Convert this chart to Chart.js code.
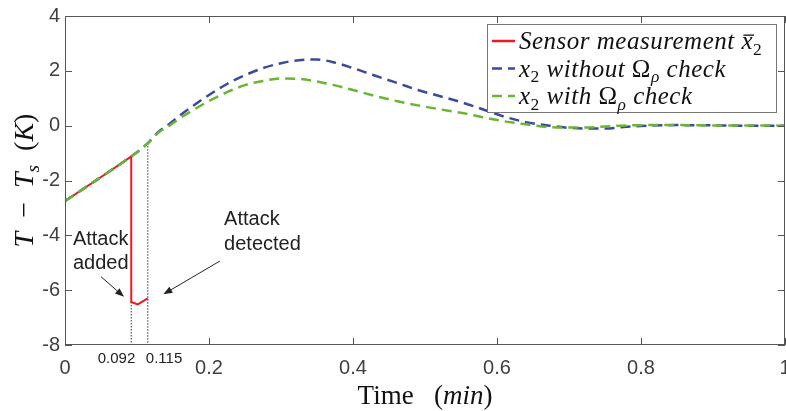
<!DOCTYPE html>
<html>
<head>
<meta charset="utf-8">
<script src="https://cdn.jsdelivr.net/npm/chart.js@4.4.0/dist/chart.umd.min.js"></script>
<style>
  html, body { margin: 0; padding: 0; background: #fff; }
</style>
</head>
<body>
<canvas id="tempChart" width="786" height="411"></canvas>
<script>
// sensor reading (red): drops when the attack is injected, stops at detection
const timeSensor = [0, 0.02, 0.04, 0.06, 0.08, 0.092, 0.092, 0.101, 0.115];
const sensorTemp = [-2.75, -2.4, -2.05, -1.7, -1.34, -1.12, -6.43, -6.52, -6.3];

// closed-loop state x2, with and without the Omega_rho check
const timeState = [0, 0.02, 0.04, 0.06, 0.08, 0.092, 0.1, 0.115, 0.13, 0.145,
  0.16, 0.18, 0.2, 0.225, 0.25, 0.275, 0.3, 0.325, 0.35, 0.375,
  0.4, 0.43, 0.46, 0.49, 0.52, 0.55, 0.58, 0.61, 0.64, 0.67,
  0.7, 0.72, 0.75, 0.78, 0.81, 0.85, 0.9, 0.95, 1];
const stateNoCheck = [-2.75, -2.4, -2.05, -1.7, -1.34, -1.12, -0.97, -0.64, -0.22, 0.06,
  0.38, 0.76, 1.12, 1.52, 1.84, 2.1, 2.28, 2.39, 2.41, 2.3,
  2.1, 1.83, 1.57, 1.3, 1.08, 0.86, 0.6, 0.33, 0.13, 0.01,
  -0.08, -0.1, -0.1, -0.04, 0.0, 0.02, 0.01, 0, 0];
const stateCheck = [-2.75, -2.4, -2.05, -1.7, -1.34, -1.12, -0.97, -0.64, -0.25, 0.0,
  0.28, 0.6, 0.9, 1.22, 1.48, 1.63, 1.72, 1.71, 1.61, 1.47,
  1.3, 1.09, 0.9, 0.74, 0.6, 0.47, 0.31, 0.16, 0.05, -0.05,
  -0.07, -0.07, -0.03, 0.01, 0.02, 0.02, 0.01, 0.01, 0];

const attackTime = 0.092;
const detectTime = 0.115;
const xTickStep = 0.2;
const yTickStep = 2;
const yMin = -8, yMax = 4;

const red = '#e81c24';
const blue = '#3a4a9c';
const green = '#6cb532';
const axisColor = '#555555';
const tickText = '#404040';
const sans = '"Liberation Sans", Arial, sans-serif';
const serif = '"Liberation Serif", "Times New Roman", serif';

function toPoints(xs, ys) {
  return xs.map((x, i) => ({ x: x, y: ys[i] }));
}

// draws a run of mixed roman / italic / subscript pieces, returns end x
function drawRich(ctx, parts, x, y, size) {
  parts.forEach(p => {
    const fs = p.sub ? size * 0.7 : size;
    ctx.font = (p.it ? 'italic ' : '') + fs + 'px ' + serif;
    const dy = p.sub ? size * 0.22 : 0;
    ctx.fillText(p.t, x, y + dy);
    const w = ctx.measureText(p.t).width;
    if (p.bar) ctx.fillRect(x + 2, y - size * 0.58, w - 1, 1.3);
    x += w;
  });
  return x;
}

function richWidth(ctx, parts, size) {
  let w = 0;
  parts.forEach(p => {
    const fs = p.sub ? size * 0.7 : size;
    ctx.font = (p.it ? 'italic ' : '') + fs + 'px ' + serif;
    w += ctx.measureText(p.t).width;
  });
  return w;
}

function arrow(ctx, x1, y1, x2, y2) {
  const a = Math.atan2(y2 - y1, x2 - x1);
  const len = 9, hw = 3.5;
  ctx.beginPath();
  ctx.moveTo(x1, y1);
  ctx.lineTo(x2 - len * Math.cos(a), y2 - len * Math.sin(a));
  ctx.stroke();
  ctx.beginPath();
  ctx.moveTo(x2, y2);
  ctx.lineTo(x2 - len * Math.cos(a) + hw * Math.sin(a), y2 - len * Math.sin(a) - hw * Math.cos(a));
  ctx.lineTo(x2 - len * Math.cos(a) - hw * Math.sin(a), y2 - len * Math.sin(a) + hw * Math.cos(a));
  ctx.closePath();
  ctx.fill();
}

const legendRows = [
  { color: red, dash: [], parts: [{ t: 'Sensor measurement ', it: true }, { t: 'x', it: true, bar: true }, { t: '2', sub: true }] },
  { color: blue, dash: [10, 6], parts: [{ t: 'x', it: true }, { t: '2', sub: true }, { t: ' without ', it: true }, { t: 'Ω' }, { t: 'ρ', it: true, sub: true }, { t: ' check', it: true }] },
  { color: green, dash: [10, 6], parts: [{ t: 'x', it: true }, { t: '2', sub: true }, { t: ' with ', it: true }, { t: 'Ω' }, { t: 'ρ', it: true, sub: true }, { t: ' check', it: true }] }
];

const overlay = {
  id: 'overlay',
  afterDraw(chart) {
    const ctx = chart.ctx;
    const { left, right, top, bottom } = chart.chartArea;
    const xs = chart.scales.x, ys = chart.scales.y;
    const px = v => xs.getPixelForValue(v);
    const py = v => ys.getPixelForValue(v);
    ctx.save();

    // box with inward ticks on all four sides
    ctx.strokeStyle = axisColor;
    ctx.lineWidth = 1;
    ctx.setLineDash([]);
    ctx.strokeRect(left + 0.5, top + 0.5, right - left - 1, bottom - top - 1);
    ctx.beginPath();
    xs.ticks.forEach(t => {
      const x = Math.round(px(t.value)) + 0.5;
      ctx.moveTo(x, bottom); ctx.lineTo(x, bottom - 7);
      ctx.moveTo(x, top); ctx.lineTo(x, top + 7);
    });
    ys.ticks.forEach(t => {
      const y = Math.round(py(t.value)) + 0.5;
      ctx.moveTo(left, y); ctx.lineTo(left + 7, y);
      ctx.moveTo(right, y); ctx.lineTo(right - 7, y);
    });
    ctx.stroke();

    // attack / detection time labels under the axis
    ctx.fillStyle = '#222';
    ctx.font = '15px ' + sans;
    ctx.textBaseline = 'middle';
    ctx.textAlign = 'right';
    ctx.fillText('0.092', px(attackTime) + 4, bottom + 14);
    ctx.textAlign = 'left';
    ctx.fillText('0.115', px(detectTime) - 2, bottom + 14);

    // annotations
    ctx.textBaseline = 'alphabetic';
    ctx.font = '20px ' + sans;
    ctx.fillStyle = '#222';
    ctx.fillText('Attack', px(0.011), py(-4.35));
    ctx.fillText('added', px(0.011), py(-4.35) + 24);
    ctx.fillText('Attack', px(0.221), py(-3.62));
    ctx.fillText('detected', px(0.221), py(-3.62) + 25);
    ctx.strokeStyle = '#222';
    ctx.lineWidth = 1;
    arrow(ctx, px(0.05), py(-5.51), px(0.082), py(-6.24));
    arrow(ctx, px(0.215), py(-4.94), px(0.1366), py(-6.15));

    // legend
    const lx = right - 298, ly = top + 8, lw = 289, lh = 88;
    ctx.fillStyle = '#fff';
    ctx.fillRect(lx, ly, lw, lh);
    ctx.strokeStyle = '#777';
    ctx.strokeRect(lx + 0.5, ly + 0.5, lw, lh);
    ctx.letterSpacing = '0.5px';
    legendRows.forEach((row, i) => {
      const cy = ly + 17 + i * 27.5;
      ctx.strokeStyle = row.color;
      ctx.lineWidth = 2.5;
      ctx.setLineDash(row.dash);
      ctx.beginPath();
      ctx.moveTo(lx + 5, cy);
      ctx.lineTo(lx + 28, cy);
      ctx.stroke();
      ctx.setLineDash([]);
      ctx.fillStyle = '#111';
      drawRich(ctx, row.parts, lx + 32, cy + 8, 25);
    });
    ctx.letterSpacing = '0px';

    // axis titles
    ctx.fillStyle = '#111';
    const xTitle = [{ t: 'Time' }, { t: '   (' }, { t: 'min', it: true }, { t: ')' }];
    const xw = richWidth(ctx, xTitle, 27);
    drawRich(ctx, xTitle, (left + right) / 2 - xw / 2, 404, 27);

    const yTitle = [{ t: 'T', it: true }, { t: '  −  ' }, { t: 'T', it: true }, { t: 's', it: true, sub: true }, { t: '  (' }, { t: 'K', it: true }, { t: ')' }];
    const yw = richWidth(ctx, yTitle, 28);
    ctx.translate(33, (top + bottom) / 2);
    ctx.rotate(-Math.PI / 2);
    drawRich(ctx, yTitle, -yw / 2, 0, 28);
    ctx.restore();
  }
};

const tickLabel = v => String(+v.toFixed(3));

const ctx = document.getElementById('tempChart').getContext('2d');
new Chart(ctx, {
  type: 'line',
  data: {
    datasets: [
      {
        label: 'x2 with check',
        data: toPoints(timeState, stateCheck),
        borderColor: green,
        borderWidth: 2.5,
        borderDash: [10, 6],
        pointRadius: 0,
        cubicInterpolationMode: 'monotone',
        order: 0
      },
      {
        label: 'x2 without check',
        data: toPoints(timeState, stateNoCheck),
        borderColor: blue,
        borderWidth: 2.5,
        borderDash: [10, 6],
        pointRadius: 0,
        cubicInterpolationMode: 'monotone',
        order: 1
      },
      {
        label: 'Sensor measurement',
        data: toPoints(timeSensor, sensorTemp),
        borderColor: red,
        borderWidth: 2,
        pointRadius: 0,
        tension: 0,
        order: 2
      },
      {
        label: 'attack time',
        data: [{ x: attackTime, y: sensorTemp[6] }, { x: attackTime, y: yMin }],
        borderColor: '#333',
        borderWidth: 1,
        borderDash: [1.5, 1.5],
        pointRadius: 0,
        order: 3
      },
      {
        label: 'detection time',
        data: [{ x: detectTime, y: stateCheck[7] }, { x: detectTime, y: yMin }],
        borderColor: '#333',
        borderWidth: 1,
        borderDash: [1.5, 1.5],
        pointRadius: 0,
        order: 3
      }
    ]
  },
  options: {
    responsive: false,
    animation: false,
    devicePixelRatio: 1,
    layout: { padding: { top: 16, right: 1, left: 0, bottom: 0 }, autoPadding: false },
    plugins: { legend: { display: false }, tooltip: { enabled: false } },
    scales: {
      x: {
        type: 'linear',
        min: 0,
        max: 1,
        ticks: { stepSize: xTickStep, color: tickText, font: { family: sans, size: 20 }, padding: 11, maxRotation: 0, callback: tickLabel },
        grid: { display: false, drawTicks: false },
        border: { display: false },
        afterFit: s => { s.height = 66; s.paddingLeft = 0; s.paddingRight = 0; }
      },
      y: {
        min: yMin,
        max: yMax,
        ticks: { stepSize: yTickStep, color: tickText, font: { family: sans, size: 20 }, padding: 5, callback: tickLabel },
        grid: { display: false, drawTicks: false },
        border: { display: false },
        afterFit: s => { s.width = 65; s.paddingTop = 0; s.paddingBottom = 0; }
      }
    }
  },
  plugins: [overlay]
});
</script>
</body>
</html>
